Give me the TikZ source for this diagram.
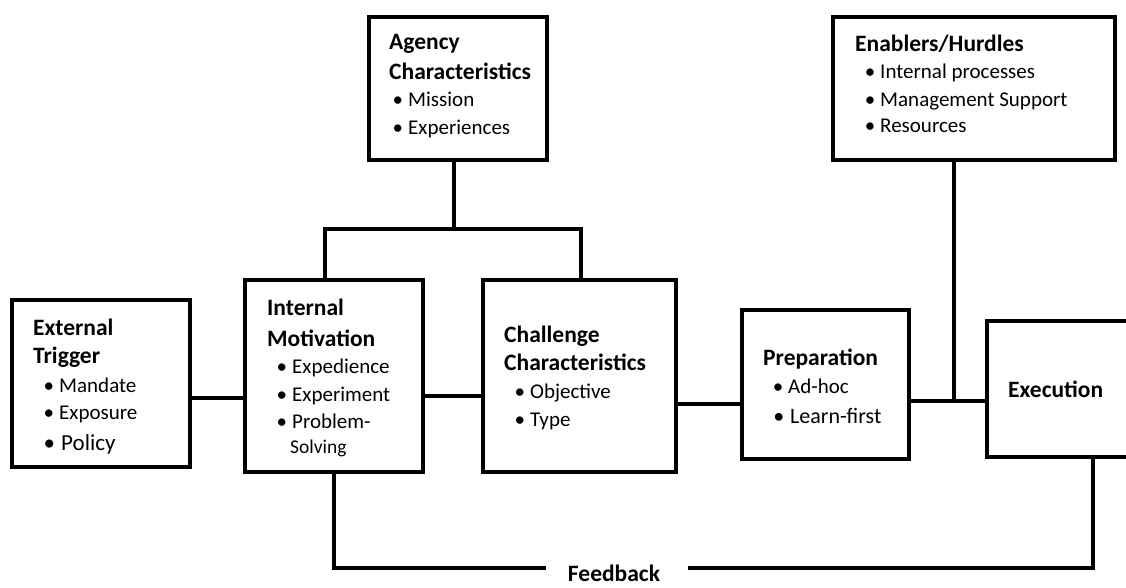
\documentclass[tikz,border=0pt]{standalone}
\usepackage{fontspec}
\setmainfont{Carlito}
\begin{document}
\begin{tikzpicture}[x=1pt,y=-1pt,
  box/.style={draw=black,line width=3.8pt,fill=white,rectangle,inner sep=0pt},
  conn/.style={draw=black,line width=3.8pt},
  ttl/.style={anchor=base west,inner sep=0pt,font=\fontsize{23.5}{28}\selectfont\bfseries},
  txt/.style={anchor=base west,inner sep=0pt,font=\fontsize{21}{25}\selectfont}]
\newcommand\bitem[4]{\node[txt] (#1) at (#2,#3) {\llap{•\hspace{5pt}}#4};}
\useasboundingbox (0,0) rectangle (1126,588);
\clip (0,0) rectangle (1126,588);
\coordinate (fbL) at (546,568);
\coordinate (fbR) at (688,568);
% boxes
\node[box,minimum width=178pt,minimum height=167pt] (ext) at (101,383.5) {};
\node[box,minimum width=178pt,minimum height=192pt] (int) at (334,376) {};
\node[box,minimum width=193pt,minimum height=192pt] (chal) at (579.5,376) {};
\node[box,minimum width=167pt,minimum height=149pt] (prep) at (825.5,384.5) {};
\node[box,minimum width=180pt,minimum height=136pt] (exec) at (1077,389) {};
\node[box,minimum width=178pt,minimum height=143pt] (agency) at (458,88.5) {};
\node[box,minimum width=282pt,minimum height=143pt] (enab) at (974,88.5) {};
% connectors
\draw[conn] (ext.east |- 0,398) -- (int.west |- 0,398);
\draw[conn] (int.east |- 0,396) -- (chal.west |- 0,396);
\draw[conn] (chal.east |- 0,404) -- (prep.west |- 0,404);
\draw[conn] (prep.east |- 0,401) -- (exec.west |- 0,401);
\draw[conn] (enab.south -| 954,0) -- (954,403);
\draw[conn] (agency.south -| 454,0) -- (454,229);
\draw[conn] (int.north -| 325,0) -- (325,229) -- (581,229) -- (chal.north -| 581,0);
\draw[conn] (int.south -| 334,0) -- (334,568) -- (fbL);
\draw[conn] (fbR) -- (1093,568) -- (exec.south -| 1093,0);
% texts
\node[ttl] (extA) at (33,335) {External};
\node[ttl] (extB) at (33,363) {Trigger};
\bitem{ext1}{59}{392}{Mandate}
\bitem{ext2}{59}{419}{Exposure}
\node[txt,font=\fontsize{23}{27}\selectfont] (ext3) at (61,450) {\llap{•\hspace{6pt}}Policy};

\node[ttl] (intA) at (267,315) {Internal};
\node[ttl] (intB) at (267,346) {Motivation};
\bitem{int1}{292}{373}{Expedience}
\bitem{int2}{292}{401}{Experiment}
\bitem{int3}{292}{428}{Problem-}
\node[txt,font=\fontsize{19.5}{24}\selectfont] (int4) at (290,453) {Solving};

\node[ttl] (chalA) at (504,342) {Challenge};
\node[ttl] (chalB) at (504,370) {Characteristics};
\bitem{chal1}{530}{398}{Objective}
\bitem{chal2}{530}{426}{Type}

\node[ttl] (prepA) at (763,365) {Preparation};
\bitem{prep1}{788}{393}{Ad-hoc}
\node[txt,font=\fontsize{22}{26}\selectfont] (prep2) at (790,423) {\llap{•\hspace{6pt}}Learn-first};

\node[ttl] (execA) at (1008,397) {Execution};

\node[ttl] (agA) at (389,50) {Agency};
\node[ttl] (agB) at (389,80) {Characteristics};
\bitem{ag1}{408}{107}{Mission}
\bitem{ag2}{408}{135}{Experiences}

\node[ttl] (enA) at (855,52) {Enablers/Hurdles};
\bitem{en1}{880}{79}{Internal processes}
\bitem{en2}{880}{107}{Management Support}
\bitem{en3}{880}{133}{Resources}

\node[ttl,anchor=base] (fbT) at (614,581) {Feedback};
\end{tikzpicture}
\end{document}
